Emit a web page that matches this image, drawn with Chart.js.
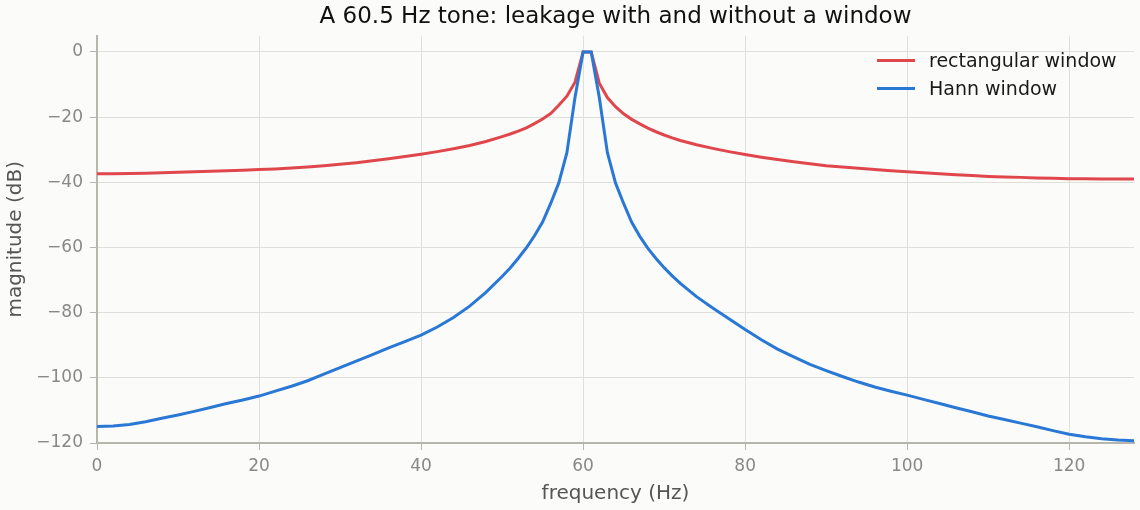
<!DOCTYPE html>
<html>
<head>
<meta charset="utf-8">
<script src="https://cdn.jsdelivr.net/npm/chart.js@4.4.1/dist/chart.umd.min.js"></script>
<style>
  html, body { margin: 0; padding: 0; background: #fbfbf9; }
  #wrap { width: 1140px; height: 510px; }
</style>
</head>
<body>
<div id="wrap"><canvas id="spectrum"></canvas></div>
<script>
// values (Hz / dB)
var rectFreq = [0, 2, 4, 6, 8, 10, 12, 14, 16, 18, 20, 22, 24, 26, 28, 30, 32, 34, 36, 38, 40, 42, 44, 46, 48, 50, 51, 52, 53, 54, 55, 56, 57, 58, 59, 60,
  61, 62, 63, 64, 65, 66, 67, 68, 69, 70, 71, 72, 74, 76, 78, 80, 82, 84, 86, 88, 90, 92, 94, 96, 98, 100, 102, 104, 106, 108, 110, 112, 114, 116, 118, 120, 122, 124, 126, 128];
var rectDb = [-37.4, -37.4, -37.3, -37.2, -37.1, -36.9, -36.8, -36.6, -36.5, -36.3, -36.1, -35.9, -35.6, -35.3, -34.9, -34.5, -34.0, -33.4, -32.8, -32.1, -31.4, -30.6, -29.7, -28.7, -27.5, -26.0, -25.2, -24.3, -23.3, -22.0, -20.6, -18.9, -16.4, -13.6, -9.3, 0,
  0, -9.6, -14.0, -16.8, -19.0, -20.7, -22.1, -23.4, -24.5, -25.5, -26.4, -27.2, -28.5, -29.6, -30.6, -31.5, -32.3, -33.0, -33.7, -34.3, -34.9, -35.3, -35.7, -36.1, -36.5, -36.8, -37.1, -37.4, -37.7, -37.9, -38.2, -38.4, -38.5, -38.7, -38.8, -38.9, -38.9, -39.0, -39.0, -39.0];

var hannFreq = [0, 2, 4, 6, 8, 10, 12, 14, 16, 18, 20, 22, 24, 26, 28, 30, 32, 34, 36, 38, 40, 42, 44, 46, 48, 50, 51, 52, 53, 54, 55, 56, 57, 58, 59, 60,
  61, 62, 63, 64, 65, 66, 67, 68, 69, 70, 71, 72, 74, 76, 78, 80, 82, 84, 86, 88, 90, 92, 94, 96, 98, 100, 102, 104, 106, 108, 110, 112, 114, 116, 118, 120, 122, 124, 126, 128];
var hannDb = [-114.9, -114.8, -114.3, -113.5, -112.4, -111.4, -110.3, -109.1, -107.9, -106.8, -105.6, -104.1, -102.6, -100.9, -98.9, -96.9, -94.9, -92.9, -90.8, -88.9, -86.9, -84.4, -81.5, -78.0, -73.8, -68.9, -66.3, -63.3, -60.1, -56.4, -52.2, -46.5, -40.2, -30.9, -14.0, 0,
  0, -14.0, -30.9, -40.2, -46.5, -52.3, -56.6, -60.3, -63.4, -66.2, -68.7, -71.0, -75.1, -78.6, -81.9, -85.2, -88.3, -91.2, -93.6, -95.9, -97.8, -99.6, -101.3, -102.8, -104.1, -105.3, -106.6, -107.9, -109.2, -110.4, -111.7, -112.8, -113.9, -115.0, -116.2, -117.3, -118.1, -118.7, -119.1, -119.3];

var xTicks = [0, 20, 40, 60, 80, 100, 120];
var yTicks = [-120, -100, -80, -60, -40, -20, 0];

var seriesNames = ['rectangular window', 'Hann window'];
var red = '#e0474c';
var blue = '#2a78d6';
var gridColor = '#e0dfda';
var axisColor = '#b7b6ae';
var tickText = '#888884';
var fontFamily = '"DejaVu Sans", Verdana, sans-serif';

function toPoints(xs, ys) {
	var pts = [];
	for (var i = 0; i < xs.length; i++) {
		pts.push({ x: xs[i], y: ys[i] });
	}
	return pts;
}

function minus(v) {
	return v < 0 ? '\u2212' + Math.abs(v) : String(v);
}

var background = {
	id: 'background',
	beforeDraw: function (chart) {
		var ctx = chart.ctx;
		ctx.save();
		ctx.fillStyle = '#fbfbf9';
		ctx.fillRect(0, 0, chart.width, chart.height);
		ctx.restore();
	}
};

// legend sits inside the plot, top right
var innerLegend = {
	id: 'innerLegend',
	afterDraw: function (chart) {
		var ctx = chart.ctx;
		var area = chart.chartArea;
		var x0 = area.right - 257;
		var y0 = area.top + 25;
		var colors = [red, blue];
		ctx.save();
		ctx.font = '19px ' + fontFamily;
		ctx.textBaseline = 'middle';
		ctx.lineWidth = 3;
		for (var i = 0; i < seriesNames.length; i++) {
			var y = y0 + i * 28;
			ctx.strokeStyle = colors[i];
			ctx.beginPath();
			ctx.moveTo(x0, y);
			ctx.lineTo(x0 + 38, y);
			ctx.stroke();
			ctx.fillStyle = '#1a1a1a';
			ctx.fillText(seriesNames[i], x0 + 52, y + 1);
		}
		ctx.restore();
	}
};

new Chart(document.getElementById('spectrum'), {
	type: 'line',
	data: {
		datasets: [{
			label: seriesNames[0],
			data: toPoints(rectFreq, rectDb),
			borderColor: red,
			borderWidth: 3,
			pointRadius: 0,
			tension: 0,
			order: 2
		}, {
			label: seriesNames[1],
			data: toPoints(hannFreq, hannDb),
			borderColor: blue,
			borderWidth: 3,
			pointRadius: 0,
			tension: 0,
			order: 1
		}]
	},
	options: {
		responsive: true,
		maintainAspectRatio: false,
		animation: false,
		devicePixelRatio: 1,
		layout: { padding: { left: 0, right: 6, top: 0, bottom: 0 } },
		plugins: {
			legend: { display: false },
			tooltip: { enabled: false },
			title: {
				display: true,
				text: 'A 60.5 Hz tone: leakage with and without a window',
				color: '#111111',
				fullSize: false,
				font: { family: fontFamily, size: 23, weight: 'normal' },
				padding: { top: 3, bottom: 5 }
			}
		},
		scales: {
			x: {
				type: 'linear',
				min: 0,
				max: 128,
				afterBuildTicks: function (axis) {
					axis.ticks = xTicks.map(function (v) { return { value: v }; });
				},
				afterFit: function (axis) { axis.height = 67; },
				grid: { color: gridColor, tickColor: axisColor, tickLength: 7, lineWidth: 1 },
				border: { color: axisColor, width: 2 },
				ticks: {
					color: tickText,
					padding: 6,
					maxRotation: 0,
					font: { family: fontFamily, size: 17 },
					callback: function (v) { return minus(v); }
				},
				title: {
					display: true,
					text: 'frequency (Hz)',
					color: '#555555',
					font: { family: fontFamily, size: 20 },
					padding: { top: 4, bottom: 4 }
				}
			},
			y: {
				type: 'linear',
				min: -120,
				max: 5,
				afterBuildTicks: function (axis) {
					axis.ticks = yTicks.map(function (v) { return { value: v }; });
				},
				afterFit: function (axis) { axis.width = 97; },
				grid: { color: gridColor, tickColor: axisColor, tickLength: 7, lineWidth: 1 },
				border: { color: axisColor, width: 2 },
				ticks: {
					color: tickText,
					padding: 7,
					font: { family: fontFamily, size: 17 },
					callback: function (v) { return minus(v); }
				},
				title: {
					display: true,
					text: 'magnitude (dB)',
					color: '#555555',
					font: { family: fontFamily, size: 20 },
					padding: { top: 4, bottom: 4 }
				}
			}
		}
	},
	plugins: [background, innerLegend]
});
</script>
</body>
</html>
